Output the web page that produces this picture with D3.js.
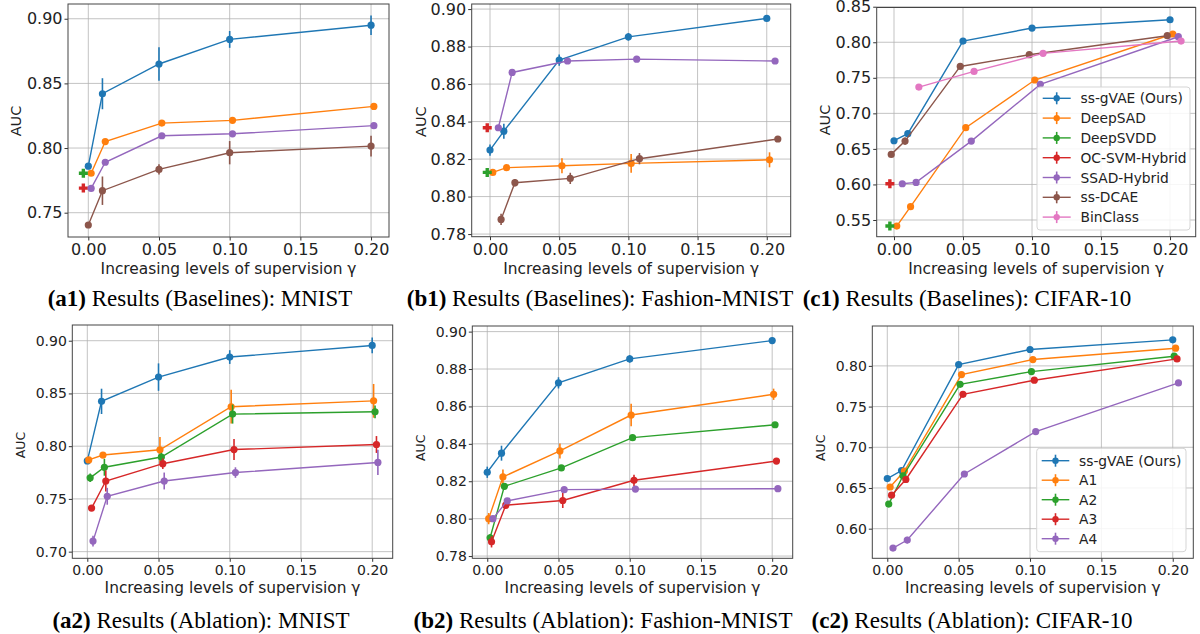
<!DOCTYPE html>
<html>
<head>
<meta charset="utf-8">
<script src="https://cdn.jsdelivr.net/npm/d3@7"></script>
<style>
  body { margin: 0; background: #fff; }
  svg { display: block; }
</style>
</head>
<body>
<svg id="chart"></svg>
<script>
// supervision levels on x axis
const gammaTicks = [0, 0.05, 0.10, 0.15, 0.20];

const baselineNames = ["ss-gVAE (Ours)", "DeepSAD", "DeepSVDD", "OC-SVM-Hybrid", "SSAD-Hybrid", "ss-DCAE", "BinClass"];
const ablationNames = ["ss-gVAE (Ours)", "A1", "A2", "A3", "A4"];
const baselineColors = ["#1f77b4", "#ff7f0e", "#2ca02c", "#d62728", "#9467bd", "#8c564b", "#e377c2"];
const ablationColors = ["#1f77b4", "#ff7f0e", "#2ca02c", "#d62728", "#9467bd"];

// each point: [gamma (with small plot offset), AUC, error]
const a1Data = [
  [0, [[0, .786, .002], [.01, .842, .012], [.05, .865, .013], [.10, .884, .0065], [.20, .895, .0075]]],
  [1, [[.002, .7805, .001], [.012, .805, .001], [.052, .8193, .001], [.102, .8214, .001], [.202, .8322, .001]]],
  [2, [[-.0035, .7805, .001]]],
  [3, [[-.0035, .7690, .001]]],
  [4, [[.002, .7688, .001], [.012, .789, .001], [.052, .8095, .001], [.102, .811, .001], [.202, .8173, .001]]],
  [5, [[0, .7405, .001], [.01, .767, .011], [.05, .7835, .004], [.10, .7964, .009], [.20, .8015, .008]]]
];

const b1Data = [
  [0, [[0, .8248, .003], [.01, .8349, .004], [.05, .8728, .003], [.10, .8852, .002], [.20, .8950, .0015]]],
  [1, [[.002, .8129, .001], [.012, .8154, .001], [.052, .8164, .004], [.102, .8177, .005], [.202, .8196, .004]]],
  [2, [[-.002, .8129, .001]]],
  [3, [[-.002, .8367, .001]]],
  [4, [[.006, .8367, .001], [.016, .8662, .001], [.056, .8723, .001], [.106, .8733, .001], [.206, .8723, .001]]],
  [5, [[.008, .7878, .003], [.018, .8074, .002], [.058, .8097, .003], [.108, .8202, .003], [.208, .8307, .001]]]
];

const c1Data = [
  [0, [[0, .6615, .002], [.01, .6714, .003], [.05, .8017, .002], [.10, .8200, .002], [.20, .8317, .002]]],
  [1, [[.002, .5415, .002], [.012, .5687, .002], [.052, .6798, .002], [.102, .7469, .002], [.202, .8116, .002]]],
  [2, [[-.003, .5415, .001]]],
  [3, [[-.003, .6010, .001]]],
  [4, [[.006, .6010, .002], [.016, .6029, .002], [.056, .6610, .002], [.106, .7408, .002], [.206, .8078, .002]]],
  [5, [[-.002, .6423, .002], [.008, .6610, .005], [.048, .7660, .003], [.098, .7825, .002], [.198, .8092, .002]]],
  [6, [[.018, .7370, .002], [.058, .7590, .002], [.108, .7844, .002], [.208, .8017, .002]]]
];

const a2Data = [
  [0, [[0, .786, .002], [.01, .8425, .012], [.05, .8655, .013], [.10, .8845, .0065], [.20, .8955, .0075]]],
  [1, [[.001, .787, .002], [.011, .7916, .002], [.051, .7966, .012], [.101, .8374, .016], [.201, .8430, .016]]],
  [2, [[.002, .770, .004], [.012, .780, .008], [.052, .7897, .004], [.102, .8304, .009], [.202, .8326, .006]]],
  [3, [[.003, .7413, .002], [.013, .767, .010], [.053, .7834, .005], [.103, .7968, .010], [.203, .8016, .008]]],
  [4, [[.004, .710, .005], [.014, .7525, .008], [.054, .767, .008], [.104, .775, .005], [.204, .7846, .012]]]
];

const b2Data = [
  [0, [[0, .8248, .003], [.01, .8350, .004], [.05, .8726, .003], [.10, .8854, .002], [.20, .8952, .0015]]],
  [1, [[.001, .8000, .003], [.011, .8223, .004], [.051, .8362, .004], [.101, .8554, .006], [.201, .8665, .003]]],
  [2, [[.002, .7898, .002], [.012, .8173, .001], [.052, .8271, .001], [.102, .8433, .001], [.202, .8502, .001]]],
  [3, [[.003, .7876, .003], [.013, .8072, .002], [.053, .8097, .004], [.103, .8205, .003], [.203, .8308, .001]]],
  [4, [[.004, .8000, .001], [.014, .8095, .001], [.054, .8155, .001], [.104, .8158, .001], [.204, .8160, .001]]]
];

const c2Data = [
  [0, [[0, .6615, .002], [.01, .6714, .003], [.05, .8016, .002], [.10, .8201, .002], [.20, .8320, .002]]],
  [1, [[.002, .6512, .002], [.012, .6708, .003], [.052, .7893, .002], [.102, .8078, .002], [.202, .8217, .002]]],
  [2, [[.001, .6302, .002], [.011, .6650, .003], [.051, .7774, .002], [.101, .7930, .002], [.201, .8119, .002]]],
  [3, [[.003, .6411, .002], [.013, .6604, .004], [.053, .7651, .002], [.103, .7824, .002], [.203, .8086, .002]]],
  [4, [[.004, .5762, .002], [.014, .5860, .004], [.054, .6672, .002], [.104, .7193, .002], [.204, .7791, .002]]]
];

const a1YTicks = [0.75, 0.80, 0.85, 0.90];
const b1YTicks = [0.78, 0.80, 0.82, 0.84, 0.86, 0.88, 0.90];
const c1YTicks = [0.55, 0.60, 0.65, 0.70, 0.75, 0.80, 0.85];
const a2YTicks = [0.70, 0.75, 0.80, 0.85, 0.90];
const b2YTicks = [0.78, 0.80, 0.82, 0.84, 0.86, 0.88, 0.90];
const c2YTicks = [0.60, 0.65, 0.70, 0.75, 0.80];

const width = 1200, height = 634;

const panels = [
  { data: a1Data, names: baselineNames, colors: baselineColors, yTicks: a1YTicks,
    box: [68, 4, 389, 237], xd: [-0.01436, 0.2127], yd: [0.7312, 0.9114], font: 16, ylabFont: 14.5,
    ylab: [16, 121], xlabY: 274, tag: "(a1)", title: " Results (Baselines): MNIST", tx: 200, ty: 306 },
  { data: b1Data, names: baselineNames, colors: baselineColors, yTicks: b1YTicks,
    box: [471.7, 4, 790.7, 236.7], xd: [-0.01323, 0.2173], yd: [0.7786, 0.9027], font: 16, ylabFont: 14.5,
    ylab: [420.7, 121.7], xlabY: 274, tag: "(b1)", title: " Results (Baselines): Fashion-MNIST", tx: 600, ty: 306 },
  { data: c1Data, names: baselineNames, colors: baselineColors, yTicks: c1YTicks,
    box: [876.7, 7.5, 1195.7, 236.7], xd: [-0.01254, 0.2186], yd: [0.5265, 0.8489], font: 16, ylabFont: 14.5,
    ylab: [825, 120], xlabY: 274, tag: "(c1)", title: " Results (Baselines): CIFAR-10", tx: 967, ty: 306,
    legend: { box: [1037, 87, 1190, 230], x0: 1042.7, x1: 1070.7, tx: 1080.5, y0: 98.3, dy: 19.8 } },
  { data: a2Data, names: ablationNames, colors: ablationColors, yTicks: a2YTicks,
    box: [72.3, 325, 392.7, 558.3], xd: [-0.01053, 0.2144], yd: [0.6937, 0.9149], font: 14, ylabFont: 12.6,
    ylab: [20.7, 445], xlabY: 593, tag: "(a2)", title: " Results (Ablation): MNIST", tx: 201, ty: 628 },
  { data: b2Data, names: ablationNames, colors: ablationColors, yTicks: b2YTicks,
    box: [472.3, 326, 792.7, 558.3], xd: [-0.0105, 0.2144], yd: [0.7788, 0.903], font: 14, ylabFont: 12.6,
    ylab: [420.7, 447.7], xlabY: 593, tag: "(b2)", title: " Results (Ablation): Fashion-MNIST", tx: 603, ty: 628 },
  { data: c2Data, names: ablationNames, colors: ablationColors, yTicks: c2YTicks,
    box: [872.3, 326, 1193.3, 558.3], xd: [-0.0105, 0.2144], yd: [0.5636, 0.849], font: 14, ylabFont: 12.6,
    ylab: [820.7, 447.7], xlabY: 593, tag: "(c2)", title: " Results (Ablation): CIFAR-10", tx: 972, ty: 628,
    legend: { box: [1036.7, 448.3, 1186, 551.7], x0: 1041.7, x1: 1069.3, tx: 1079, y0: 460.7, dy: 19.5 } }
];

const svg = d3.select("#chart")
  .attr("width", width)
  .attr("height", height)
  .attr("viewBox", [0, 0, width, height]);

const sans = "DejaVu Sans, sans-serif";

// filled plus marker for the single-point baselines
const plusPath = (cx, cy) => {
  const a = 4.5, b = 1.7;
  return `M${cx - b},${cy - a}H${cx + b}V${cy - b}H${cx + a}V${cy + b}H${cx + b}V${cy + a}H${cx - b}V${cy + b}H${cx - a}V${cy - b}H${cx - b}Z`;
};

panels.forEach(p => {
  const [L, T, R, B] = p.box;
  const x = d3.scaleLinear().domain(p.xd).range([L, R]);
  const y = d3.scaleLinear().domain(p.yd).range([B, T]);
  const g = svg.append("g");

  // grid
  g.append("g").selectAll("line").data(gammaTicks).join("line")
    .attr("x1", d => x(d)).attr("x2", d => x(d)).attr("y1", T).attr("y2", B)
    .attr("stroke", "#b0b0b0").attr("stroke-width", 1).attr("opacity", 0.75);
  g.append("g").selectAll("line").data(p.yTicks).join("line")
    .attr("y1", d => y(d)).attr("y2", d => y(d)).attr("x1", L).attr("x2", R)
    .attr("stroke", "#b0b0b0").attr("stroke-width", 1).attr("opacity", 0.75);

  // axes
  g.append("g")
    .attr("transform", `translate(0,${B})`)
    .call(d3.axisBottom(x).tickValues(gammaTicks).tickFormat(d3.format(".2f")).tickSize(3.5).tickPadding(3))
    .call(a => a.select(".domain").remove())
    .call(a => a.selectAll("line").attr("stroke", "#333"))
    .call(a => a.selectAll("text").attr("font-family", sans).attr("font-size", p.font).attr("fill", "#222"));
  g.append("g")
    .attr("transform", `translate(${L},0)`)
    .call(d3.axisLeft(y).tickValues(p.yTicks).tickFormat(d3.format(".2f")).tickSize(3.5).tickPadding(2))
    .call(a => a.select(".domain").remove())
    .call(a => a.selectAll("line").attr("stroke", "#333"))
    .call(a => a.selectAll("text").attr("font-family", sans).attr("font-size", p.font).attr("fill", "#222"));

  g.append("rect")
    .attr("x", L).attr("y", T).attr("width", R - L).attr("height", B - T)
    .attr("fill", "none").attr("stroke", "#444").attr("stroke-width", 1);

  // axis labels
  g.append("text")
    .attr("x", (L + R) / 2).attr("y", p.xlabY)
    .attr("text-anchor", "middle")
    .attr("font-family", sans).attr("font-size", 15.4).attr("fill", "#222")
    .text("Increasing levels of supervision γ");
  g.append("text")
    .attr("transform", `translate(${p.ylab[0]},${p.ylab[1]}) rotate(-90)`)
    .attr("text-anchor", "middle").attr("dominant-baseline", "central")
    .attr("font-family", sans).attr("font-size", p.ylabFont).attr("fill", "#222")
    .text("AUC");

  // series
  const line = d3.line().x(d => x(d[0])).y(d => y(d[1]));
  p.data.forEach(([k, pts]) => {
    const c = p.colors[k];
    const s = g.append("g");
    if (pts.length > 1) {
      s.append("path").attr("d", line(pts))
        .attr("fill", "none").attr("stroke", c).attr("stroke-width", 1.4);
    }
    s.selectAll("line.err").data(pts).join("line")
      .attr("class", "err")
      .attr("x1", d => x(d[0])).attr("x2", d => x(d[0]))
      .attr("y1", d => y(d[1] - d[2])).attr("y2", d => y(d[1] + d[2]))
      .attr("stroke", c).attr("stroke-width", 1.6);
    if (pts.length > 1) {
      s.selectAll("circle").data(pts).join("circle")
        .attr("cx", d => x(d[0])).attr("cy", d => y(d[1])).attr("r", 3.6)
        .attr("fill", c);
    } else {
      s.selectAll("path.pm").data(pts).join("path")
        .attr("class", "pm")
        .attr("d", d => plusPath(x(d[0]), y(d[1])))
        .attr("fill", c);
    }
  });

  // legend
  if (p.legend) {
    const lg = p.legend;
    const [bx0, by0, bx1, by1] = lg.box;
    g.append("rect")
      .attr("x", bx0).attr("y", by0).attr("width", bx1 - bx0).attr("height", by1 - by0)
      .attr("rx", 3).attr("fill", "#fff").attr("fill-opacity", 0.85)
      .attr("stroke", "#d5d5d5").attr("stroke-width", 1);
    const items = g.append("g").selectAll("g").data(p.names).join("g")
      .attr("transform", (d, i) => `translate(0,${lg.y0 + i * lg.dy})`);
    items.append("line")
      .attr("x1", lg.x0).attr("x2", lg.x1)
      .attr("stroke", (d, i) => p.colors[i]).attr("stroke-width", 1.4);
    items.append("line")
      .attr("x1", (lg.x0 + lg.x1) / 2).attr("x2", (lg.x0 + lg.x1) / 2)
      .attr("y1", -6).attr("y2", 6)
      .attr("stroke", (d, i) => p.colors[i]).attr("stroke-width", 1.6);
    items.append("circle")
      .attr("cx", (lg.x0 + lg.x1) / 2).attr("r", 3.2)
      .attr("fill", (d, i) => p.colors[i]);
    items.append("text")
      .attr("x", lg.tx).attr("dominant-baseline", "central")
      .attr("font-family", sans).attr("font-size", 13.8).attr("fill", "#222")
      .text(d => d);
  }

  // sub-caption
  const t = svg.append("text")
    .attr("x", p.tx).attr("y", p.ty)
    .attr("text-anchor", "middle")
    .attr("font-family", "Liberation Serif, Times New Roman, serif")
    .attr("font-size", 23).attr("fill", "#000");
  t.append("tspan").attr("font-weight", "bold").text(p.tag);
  t.append("tspan").text(p.title);
});
</script>
</body>
</html>
